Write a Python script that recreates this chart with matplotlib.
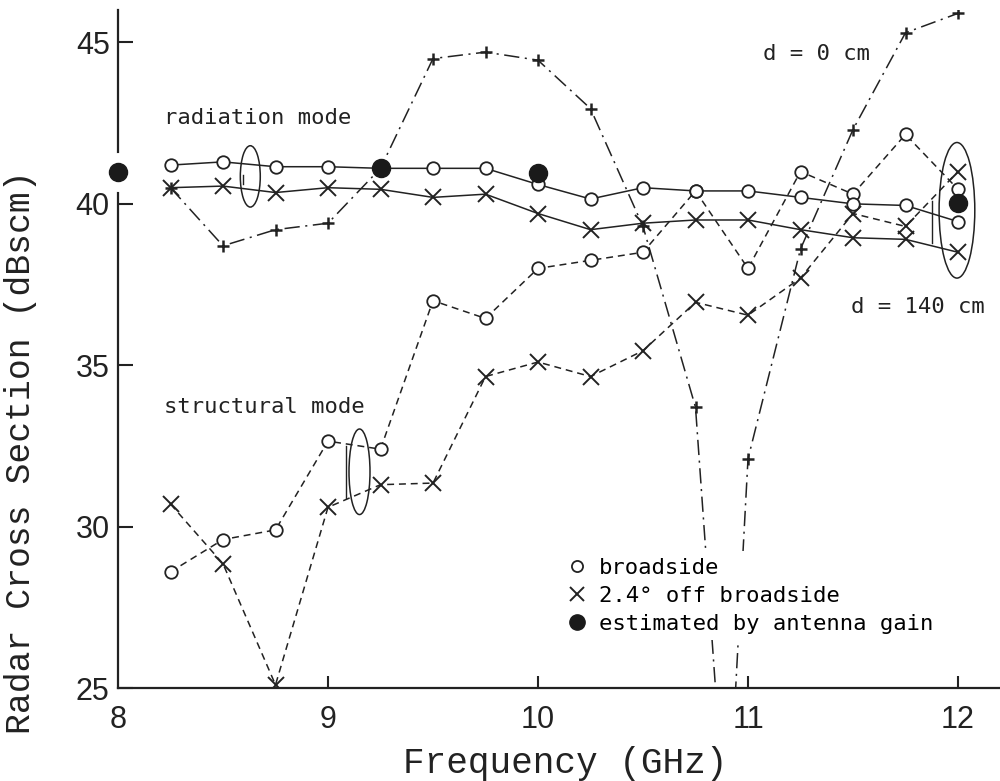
import matplotlib
matplotlib.use("Agg")
import matplotlib.pyplot as plt
from matplotlib.patches import Ellipse
from matplotlib.lines import Line2D

plt.rcParams['lines.scale_dashes'] = False

ink = '#222222'

# frequencies (GHz)
freq = [8.25, 8.5, 8.75, 9.0, 9.25, 9.5, 9.75, 10.0,
        10.25, 10.5, 10.75, 11.0, 11.25, 11.5, 11.75, 12.0]

# radiation mode (solid)
rad_broad = [41.2, 41.3, 41.15, 41.15, 41.1, 41.1, 41.1, 40.6,
             40.15, 40.5, 40.4, 40.4, 40.2, 40.0, 39.95, 39.45]
rad_off = [40.5, 40.55, 40.35, 40.5, 40.45, 40.2, 40.3, 39.7,
           39.2, 39.4, 39.5, 39.5, 39.2, 38.95, 38.9, 38.5]

# structural mode (dashed)
str_broad = [28.6, 29.6, 29.9, 32.65, 32.4, 37.0, 36.45, 38.0,
             38.25, 38.5, 40.4, 38.0, 41.0, 40.3, 42.15, 40.45]
str_off = [30.7, 28.85, 25.1, 30.6, 31.3, 31.35, 34.65, 35.1,
           34.65, 35.45, 36.95, 36.55, 37.7, 39.7, 39.3, 41.0]

# d = 0 cm (dash-dot), deep null near 10.9 GHz goes off the chart
freq_d0 = [8.25, 8.5, 8.75, 9.0, 9.25, 9.5, 9.75, 10.0, 10.25,
           10.5, 10.75, 10.9, 11.0, 11.25, 11.5, 11.75, 12.0]
rcs_d0 = [40.5, 38.7, 39.2, 39.4, 41.1, 44.5, 44.7, 44.45, 42.95,
          39.3, 33.7, 20.0, 32.1, 38.6, 42.3, 45.3, 45.9]

# estimated by antenna gain
gain_freq = [8.0, 9.25, 10.0, 12.0]
gain_rcs = [41.0, 41.1, 40.97, 40.03]

fig = plt.figure(figsize=(10, 7.81), dpi=100)
ax = fig.add_axes([0.118, 0.119, 0.882, 0.868])

lw = 1.1
ax.plot(freq, rad_broad, '-', color=ink, lw=lw, marker='o', ms=9,
        mfc='white', mec=ink, mew=1.3, zorder=4)
ax.plot(freq, rad_off, '-', color=ink, lw=lw, marker='x', ms=11,
        mec=ink, mew=1.4, zorder=4)
ax.plot(freq, str_broad, color=ink, lw=lw, dashes=(5, 3.5), marker='o',
        ms=9, mfc='white', mec=ink, mew=1.3, zorder=3)
ax.plot(freq, str_off, color=ink, lw=lw, dashes=(5, 3.5), marker='x',
        ms=11, mec=ink, mew=1.4, zorder=3)
marks = [i for i in range(len(freq_d0)) if i != 11]
ax.plot(freq_d0, rcs_d0, color=ink, lw=lw, dashes=(11, 4, 1.5, 4),
        marker='+', ms=8, mew=1.8, mec=ink, markevery=marks, zorder=2)

# filled dots; the one on the spine gets a white halo so the axis breaks
ax.plot(gain_freq[:1], gain_rcs[:1], 'o', ms=27, color='white',
        clip_on=False, zorder=5)
ax.plot(gain_freq, gain_rcs, 'o', ms=13, color='#1a1a1a',
        clip_on=False, zorder=6)

# grouping ellipses
for (cx, cy, w, h) in [(8.63, 40.85, 0.095, 1.9),
                       (9.15, 31.7, 0.10, 2.65),
                       (11.995, 39.8, 0.17, 4.2)]:
    ax.add_patch(Ellipse((cx, cy), w, h, fill=False, ec=ink, lw=1.1,
                         zorder=4))
ax.plot([8.595, 8.595], [40.6, 40.9], color=ink, lw=1.0)
ax.plot([9.085, 9.085], [30.9, 32.5], color=ink, lw=1.0)
ax.plot([11.875, 11.875], [38.8, 40.1], color=ink, lw=1.0)

tfont = dict(family='DejaVu Sans Mono', fontsize=16, color=ink)
ax.text(8.22, 42.67, 'radiation mode', va='center', **tfont)
ax.text(8.22, 33.7, 'structural mode', va='center', **tfont)
ax.text(11.07, 44.63, 'd = 0 cm', va='center', **tfont)
ax.text(11.49, 36.8, 'd = 140 cm', va='center', **tfont)

handles = [
    Line2D([], [], ls='none', marker='o', ms=8, mfc='white', mec=ink, mew=1.3),
    Line2D([], [], ls='none', marker='x', ms=10, mec=ink, mew=1.4),
    Line2D([], [], ls='none', marker='o', ms=11, color='#1a1a1a'),
]
labels = ['broadside', '2.4\u00b0 off broadside', 'estimated by antenna gain']
leg = ax.legend(handles, labels, loc='upper left', bbox_to_anchor=(0.49, 0.218),
                frameon=True, fancybox=False, edgecolor='none', framealpha=1,
                handlelength=0.8, handletextpad=0.6, labelspacing=0.35,
                borderpad=0.3, prop={'family': 'DejaVu Sans Mono', 'size': 16})
leg.set_zorder(7)

ax.set_xlim(8, 12.2)
ax.set_ylim(25, 46.0)
ax.set_xticks([8, 9, 10, 11, 12])
ax.set_yticks([25, 30, 35, 40, 45])
ax.spines['top'].set_visible(False)
ax.spines['right'].set_visible(False)
for s in ('left', 'bottom'):
    ax.spines[s].set_linewidth(1.6)
    ax.spines[s].set_color(ink)
ax.tick_params(axis='y', direction='in', length=11, width=1.5, pad=6,
               colors=ink, labelsize=22)
ax.tick_params(axis='x', direction='in', length=9, width=1.5, pad=12,
               colors=ink, labelsize=22)
ax.xaxis.get_major_ticks()[0].tick1line.set_visible(False)
for lab in ax.get_xticklabels() + ax.get_yticklabels():
    lab.set_family('Liberation Sans')

ax.set_ylabel('Radar Cross Section (dBscm)', family='Liberation Mono',
              fontsize=25, color=ink)
ax.set_xlabel('Frequency (GHz)', family='Liberation Mono', fontsize=26,
              color=ink)
ax.yaxis.set_label_coords(-0.092, 0.348)
ax.xaxis.set_label_coords(0.507, -0.085)

fig.savefig('out.png', dpi=100, facecolor='white')
